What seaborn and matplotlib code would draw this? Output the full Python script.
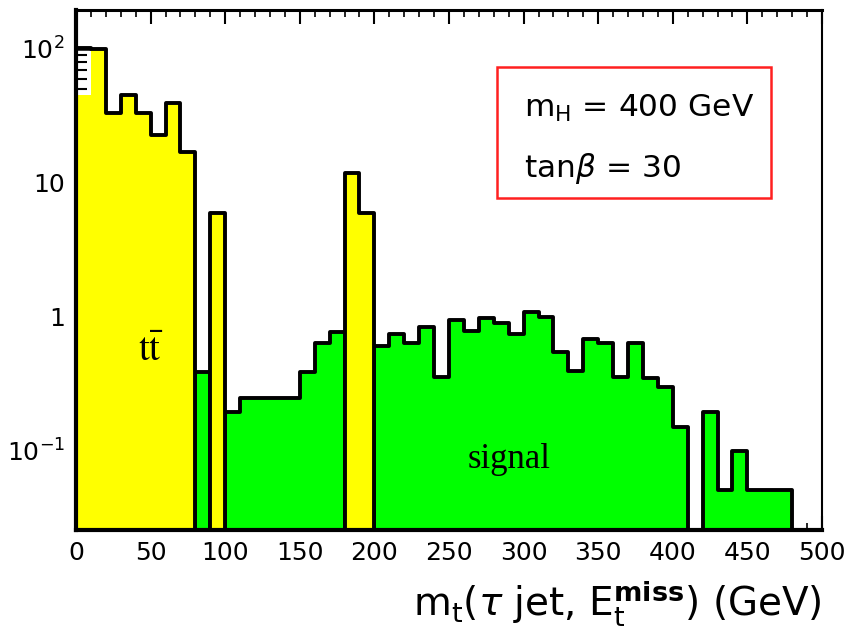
import numpy as np
import pandas as pd
import matplotlib
matplotlib.use("Agg")
import matplotlib.pyplot as plt
import seaborn as sns
from matplotlib.ticker import FixedLocator, FixedFormatter, MultipleLocator, LogLocator, NullFormatter
from matplotlib.patches import Rectangle

# ---------------- data (bins of 10 GeV from 0 to 500) ----------------
bin_edges = list(range(0, 510, 10))

# signal (green), events per bin (0 = empty or hidden behind ttbar)
signal = [0, 0, 0, 0, 0, 0, 0, 0, 0.39, 0,
          0.195, 0.25, 0.25, 0.25, 0.25, 0.39, 0.64, 0.77, 0, 0,
          0.61, 0.75, 0.64, 0.84, 0.356, 0.95, 0.79, 0.98, 0.90, 0.75,
          1.09, 1.0, 0.55, 0.395, 0.69, 0.64, 0.356, 0.64, 0.35, 0.30,
          0.151, 0, 0.195, 0.051, 0.10, 0.051, 0.051, 0.051, 0, 0]

# ttbar background (yellow), outline values
ttbar = [102, 99, 33, 45, 33, 22.8, 39.5, 17, 0, 6.0,
         0, 0, 0, 0, 0, 0, 0, 0, 11.9, 6.0,
         0, 0, 0, 0, 0, 0, 0, 0, 0, 0,
         0, 0, 0, 0, 0, 0, 0, 0, 0, 0,
         0, 0, 0, 0, 0, 0, 0, 0, 0, 0]
# yellow fill level of first bin is lower than its outline in the original
ttbar_fill = [45] + ttbar[1:]

x_ticks = [0, 50, 100, 150, 200, 250, 300, 350, 400, 450, 500]
y_ticks = [0.1, 1, 10, 100]
y_tick_labels = [r"$\mathregular{10^{-1}}$", "1", "10", r"$\mathregular{10^{2}}$"]

centers = [e + 5 for e in bin_edges[:-1]]
df = pd.DataFrame({"x": centers, "signal": signal, "ttbar": ttbar, "ttbar_fill": ttbar_fill})

# ---------------- figure ----------------
sns.set_style("ticks")
plt.rcParams["font.family"] = ["DejaVu Sans"]
plt.rcParams["mathtext.fontset"] = "dejavusans"
plt.rcParams["text.color"] = "black"
plt.rcParams["axes.labelcolor"] = "black"

fig = plt.figure(figsize=(8.51, 6.36), dpi=100)
ax = fig.add_axes([76 / 851, 1 - 530 / 636, 746 / 851, 520 / 636])
ax.set_yscale("log")

lw = 2.8
sns.histplot(data=df, x="x", weights="signal", bins=bin_edges, element="step", fill=True,
             color="#00ff00", alpha=1, edgecolor="black", linewidth=lw, ax=ax, zorder=1)
sns.histplot(data=df, x="x", weights="ttbar_fill", bins=bin_edges, element="step", fill=True,
             color="#ffff00", alpha=1, linewidth=0, ax=ax, zorder=2)
sns.histplot(data=df, x="x", weights="ttbar", bins=bin_edges, element="step", fill=False,
             color="black", linewidth=lw, ax=ax, zorder=3)

ax.set_xlim(0, 500)
ax.set_ylim(0.0257, 195)

# ticks
ax.xaxis.set_major_locator(FixedLocator(x_ticks))
ax.xaxis.set_minor_locator(MultipleLocator(10))
ax.yaxis.set_major_locator(FixedLocator(y_ticks))
ax.yaxis.set_major_formatter(FixedFormatter(y_tick_labels))
ax.yaxis.set_minor_locator(LogLocator(base=10, subs=np.arange(2, 10)))
ax.yaxis.set_minor_formatter(NullFormatter())
ax.tick_params(axis="both", which="both", direction="in", colors="black", top=True, right=False)
ax.tick_params(axis="x", which="major", length=10, width=1.5, labelsize=18, pad=8)
ax.tick_params(axis="x", which="minor", length=5, width=1.2)
ax.tick_params(axis="y", which="major", length=14, width=1.8, labelsize=18, pad=8)
ax.tick_params(axis="y", which="minor", length=8, width=1.5)

for side, w in [("left", 3), ("bottom", 3), ("top", 2.2), ("right", 1.5)]:
    ax.spines[side].set_visible(True)
    ax.spines[side].set_linewidth(w)
    ax.spines[side].set_color("black")
    ax.spines[side].set_zorder(5)

ax.set_ylabel("")
ax.set_xlabel(r"m$_\mathregular{t}$($\tau$ jet, E$_\mathregular{t}^\mathbf{miss}$) (GeV)",
              fontsize=28, loc="right", labelpad=10, color="black")

# annotations
ax.text(50, 0.57, r"$\mathrm{t\bar{t}}$", fontsize=28, math_fontfamily="stix",
        ha="center", va="center", zorder=6, color="black")
ax.text(290, 0.087, "signal", fontsize=25, family=["Liberation Serif", "DejaVu Serif"],
        ha="center", va="center", zorder=6, color="black")

box = Rectangle((0.564, 0.638), 0.368, 0.252, transform=ax.transAxes, fill=True,
                facecolor="white", edgecolor="#ff2020", linewidth=1.8, zorder=6)
ax.add_patch(box)
ax.text(0.601, 0.810, r"m$_\mathregular{H}$ = 400 GeV", transform=ax.transAxes,
        fontsize=22.5, va="center", ha="left", zorder=7, color="black")
ax.text(0.601, 0.695, r"tan$\beta$ = 30", transform=ax.transAxes,
        fontsize=22.5, va="center", ha="left", zorder=7, color="black")

fig.savefig("out.png", dpi=100, facecolor="white")
